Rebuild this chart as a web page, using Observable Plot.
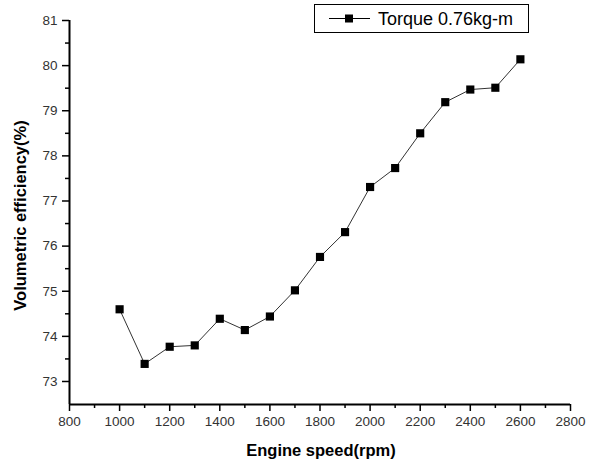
<!DOCTYPE html>
<html>
<head>
<meta charset="utf-8">
<script src="https://cdn.jsdelivr.net/npm/d3@7"></script>
<script src="https://cdn.jsdelivr.net/npm/@observablehq/plot@0.6"></script>
<style>
  html, body { margin: 0; padding: 0; background: #fff; }
  #chart { position: relative; width: 598px; height: 468px; }
</style>
</head>
<body>
<div id="chart"></div>
<script>
const speed = [1000, 1100, 1200, 1300, 1400, 1500, 1600, 1700, 1800, 1900, 2000, 2100, 2200, 2300, 2400, 2500, 2600];
const efficiency = [74.60, 73.39, 73.77, 73.80, 74.39, 74.14, 74.44, 75.02, 75.76, 76.31, 77.31, 77.73, 78.50, 79.19, 79.47, 79.51, 80.14];
const xMajor = [800, 1000, 1200, 1400, 1600, 1800, 2000, 2200, 2400, 2600, 2800];
const xMinor = [900, 1100, 1300, 1500, 1700, 1900, 2100, 2300, 2500, 2700];
const yMajor = [73, 74, 75, 76, 77, 78, 79, 80, 81];
const yMinor = [73.5, 74.5, 75.5, 76.5, 77.5, 78.5, 79.5, 80.5];
const seriesName = "Torque 0.76kg-m";
const xLabel = "Engine speed(rpm)";
const yLabel = "Volumetric efficiency(%)";

const data = speed.map((s, i) => ({speed: s, eff: efficiency[i]}));
const font = "'Liberation Sans', Arial, sans-serif";

const plot = Plot.plot({
  width: 598,
  height: 468,
  marginLeft: 69,
  marginRight: 28,
  marginTop: 20,
  marginBottom: 64,
  style: {fontFamily: font, background: "#fff", color: "#000"},
  x: {domain: [800, 2800], axis: null, label: null},
  y: {domain: [72.49, 81], axis: null, label: null},
  marks: [
    Plot.axisX(xMajor, {tickSize: 7, tickPadding: 5, fontSize: 13.5, fill: "#333", strokeWidth: 1.5, tickFormat: d => String(d), label: null}),
    Plot.axisX(xMinor, {tickSize: 4, tickFormat: () => "", strokeWidth: 1.5, label: null}),
    Plot.axisY(yMajor, {tickSize: 7, tickPadding: 5, fontSize: 13.5, fill: "#333", strokeWidth: 1.5, tickFormat: d => String(d), label: null}),
    Plot.axisY(yMinor, {tickSize: 4, tickFormat: () => "", strokeWidth: 1.5, label: null}),
    Plot.ruleX([800], {y1: 72.49, y2: 81, stroke: "#000", strokeWidth: 2}),
    Plot.ruleY([72.49], {x1: 800, x2: 2800, stroke: "#000", strokeWidth: 2}),
    Plot.line(data, {x: "speed", y: "eff", stroke: "#333", strokeWidth: 1}),
    Plot.dot(data, {x: "speed", y: "eff", symbol: "square", r: 4.6, fill: "#000", stroke: "none"}),
    Plot.text([xLabel], {frameAnchor: "bottom", textAnchor: "middle", dy: 51, dx: 1, fontSize: 16.5, fontWeight: "bold", fill: "#000", letterSpacing: 0.3}),
    Plot.text([yLabel], {frameAnchor: "left", textAnchor: "middle", rotate: -90, dx: -49, dy: 3, fontSize: 16.5, fontWeight: "bold", fill: "#000", letterSpacing: 0.5})
  ]
});

document.getElementById("chart").appendChild(plot);

// legend box drawn inside the chart's svg
const svg = d3.select(plot);
const lg = svg.append("g").attr("font-family", font).attr("text-anchor", "start");
lg.append("rect").attr("x", 314.5).attr("y", 4.5).attr("width", 214).attr("height", 28)
  .attr("fill", "#fff").attr("stroke", "#000").attr("stroke-width", 1);
lg.append("line").attr("x1", 329).attr("x2", 370).attr("y1", 18.5).attr("y2", 18.5)
  .attr("stroke", "#000").attr("stroke-width", 1);
lg.append("rect").attr("x", 345).attr("y", 14.5).attr("width", 8).attr("height", 8).attr("fill", "#000");
lg.append("text").attr("x", 378).attr("y", 25).attr("font-size", 18).attr("fill", "#000")
  .attr("text-anchor", "start").text(seriesName);
</script>
</body>
</html>
